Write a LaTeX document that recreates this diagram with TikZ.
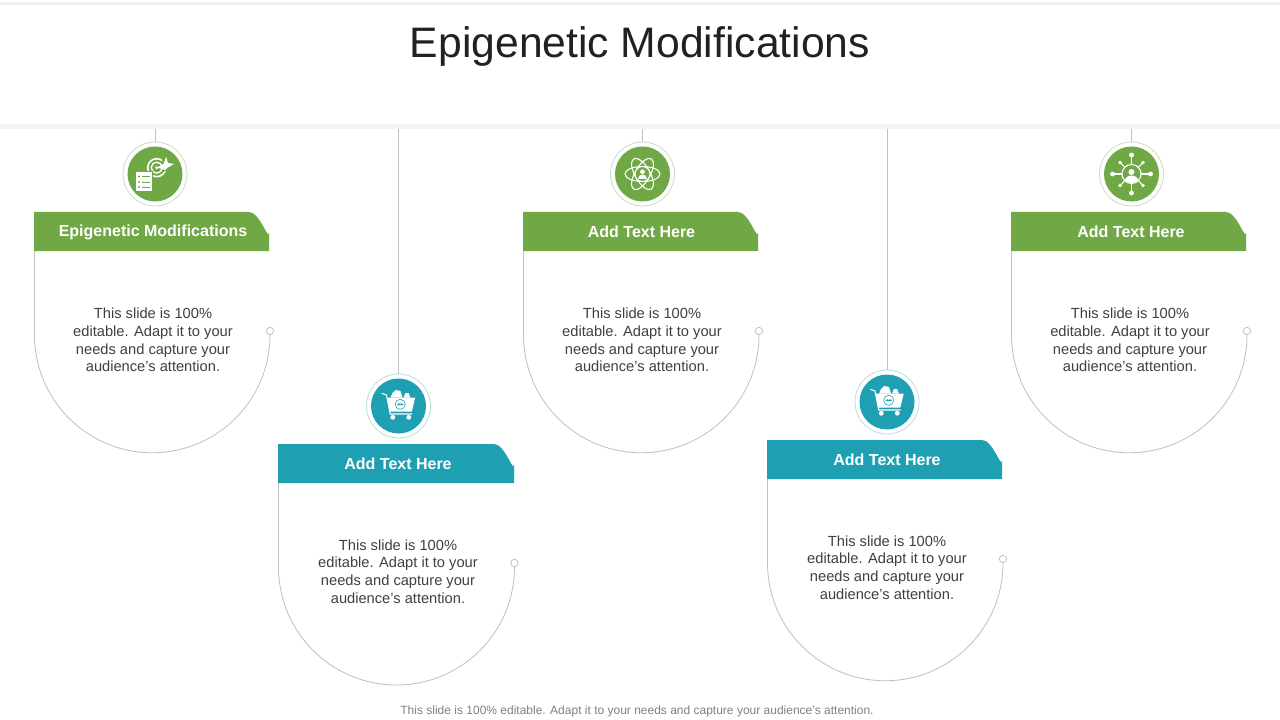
\documentclass[tikz,border=0pt]{standalone}
\usepackage{fontspec}
\setmainfont{Liberation Sans}
\usepackage{tikz}
\definecolor{leaf}{HTML}{70A845}
\definecolor{sea}{HTML}{1FA0B2}
\definecolor{leafring}{HTML}{C9DEBB}
\definecolor{searing}{HTML}{B5E0E6}
\definecolor{wire}{HTML}{BFBFBF}
\definecolor{band}{HTML}{F2F2F2}
\newcommand{\slidetxt}{This slide is 100\%\\editable. Adapt it to your\\needs and capture your\\audience's attention.}
\tikzset{
  headtxt/.style={text=white,font=\fontsize{12}{14}\selectfont\bfseries},
  bodytxt/.style={text=black!75,align=center,font=\fontsize{11}{13.3}\selectfont},
  iconring/.style={circle,draw,line width=0.6pt,fill=white,inner sep=0pt,minimum size=48pt},
  enddot/.style={circle,draw=wire,fill=white,line width=0.6pt,inner sep=0pt,minimum size=5.5pt},
  stem/.style={draw=wire,line width=0.6pt},
  glyph/.style={draw=white,line width=0.8pt},
  pics/cartic/.style={code={
    \fill[white] (-8,-8.3) -- (-6,-13) -- (-3,-16) -- (2,-15) -- (4,-8.3) -- cycle;
    \fill[white] (5,-8.3) -- (7,-13) -- (10,-13) -- (12,-8.3) -- cycle;
    \fill[white] (-11.7,-8.3) -- (16.7,-8.3) -- (13.3,5.7) -- (-8.3,5.7) -- cycle;
    \draw[glyph] (-16.7,-12.7) -- (-12,-11) -- (-8.3,8) -- (13.5,8);
    \fill[white] (-5.7,11.3) circle [radius=2.4];
    \fill[white] (10.3,11.3) circle [radius=2.4];
    \fill[#1] (1.7,-1.7) circle [radius=5.4];
    \fill[white] (1.7,-1.7) circle [radius=4.6];
    \draw[#1,line width=0.5pt] (-1,-1.7) to [out=60,in=120] (1.7,-1.7) to [out=-60,in=-120] (4.4,-1.7) to [out=120,in=60] (1.7,-1.7) to [out=-120,in=-60] cycle;
  }}
}

\begin{document}
\begin{tikzpicture}[x=0.75pt,y=-0.75pt]
\useasboundingbox (0,0) rectangle (1280,720);
\fill [white] (0,0) rectangle (1280,720);
\fill [band] (0,2) rectangle (1280,5);
\fill [band] (0,124) rectangle (1280,129);
\node (title) [text=black!87,font=\fontsize{32}{38}\selectfont] at (640,46) {Epigenetic Modifications};
\node (foot) [text=black!50,font=\fontsize{9}{11}\selectfont] at (637,711) {This slide is 100\% editable. Adapt it to your needs and capture your audience's attention.};

% first card
\coordinate (top1) at (155,129);
\node (icon1) [iconring,draw=leafring] at (155,174) {};
\draw [stem] (top1) -- (icon1);
\fill [leaf] (icon1) circle [radius=27.5];
\fill [leaf] (34,212) -- (249,212) to [out=0,in=-90] (269,232) -- (269,251) -- (34,251) -- cycle;
\node (head1) [headtxt] at (153,232) {Epigenetic Modifications};
\node (end1) [enddot] at (270,331) {};
\draw [stem] (34.5,251) -- (34.5,335) arc [start angle=180,end angle=0,radius=117.75] -- (end1);
\node (body1) [bodytxt] at (153,340) {\slidetxt};
\begin{scope}[shift={(155,174)}]
\draw [white,line width=1.2pt] (1.7,-6.3) circle [radius=9];
\draw [white,line width=1pt] (1.7,-6.3) circle [radius=5.5];
\fill [white] (1.7,-6.3) circle [radius=1.6];
\fill [leaf] (7,-14) -- (16,-16) -- (18,-6) -- (8,-2) -- cycle;
\fill [white] (2,-6.5) -- (8.5,-10) -- (11,-17) -- (13,-11) -- (19,-10) -- (12,-6) -- (10,-4) -- cycle;
\fill [leaf] (-20,-3.3) rectangle (-1.7,18);
\fill [white] (-19,-2.3) rectangle (-2.7,17);
\draw [leaf,line width=0.7pt] (-13,2.5) -- (-5,2.5) (-13,8) -- (-5,8) (-13,13) -- (-5,13);
\fill [leaf] (-16,2.5) circle [radius=1.1] (-16,8) circle [radius=1.1] (-16,13) circle [radius=1.1];
\end{scope}

% second card
\coordinate (top2) at (398.5,129);
\node (icon2) [iconring,draw=searing] at (398.5,406) {};
\draw [stem] (top2) -- (icon2);
\fill [sea] (icon2) circle [radius=27.5];
\pic at (icon2) {cartic=sea};
\fill [sea] (278,444) -- (494,444) to [out=0,in=-90] (514,464) -- (514,483) -- (278,483) -- cycle;
\node (head2) [headtxt] at (398,464) {Add Text Here};
\node (end2) [enddot] at (514.5,563) {};
\draw [stem] (278.5,483) -- (278.5,567) arc [start angle=180,end angle=0,radius=118] -- (end2);
\node (body2) [bodytxt] at (398,571.5) {\slidetxt};

% third card
\coordinate (top3) at (642.5,129);
\node (icon3) [iconring,draw=leafring] at (642.5,174) {};
\draw [stem] (top3) -- (icon3);
\fill [leaf] (icon3) circle [radius=27.5];
\begin{scope}[shift={(642.5,174)}]
\draw [glyph] (0,0) circle [x radius=17.5,y radius=7.5];
\draw [glyph,rotate=60] (0,0) circle [x radius=17.5,y radius=7.5];
\draw [glyph,rotate=-60] (0,0) circle [x radius=17.5,y radius=7.5];
\draw [glyph,fill=leaf] (0,0) circle [radius=7.5];
\fill [white] (0,-2.2) circle [radius=2.4];
\fill [white] (-4.5,5) to [out=90,in=180] (0,0.5) to [out=0,in=90] (4.5,5) -- cycle;
\end{scope}
\fill [leaf] (523,212) -- (738,212) to [out=0,in=-90] (758,232) -- (758,251) -- (523,251) -- cycle;
\node (head3) [headtxt] at (641.5,232) {Add Text Here};
\node (end3) [enddot] at (759,331) {};
\draw [stem] (523.5,251) -- (523.5,335) arc [start angle=180,end angle=0,radius=117.75] -- (end3);
\node (body3) [bodytxt] at (642,340) {\slidetxt};

% fourth card
\coordinate (top4) at (887,129);
\node (icon4) [iconring,draw=searing] at (887,402) {};
\draw [stem] (top4) -- (icon4);
\fill [sea] (icon4) circle [radius=27.5];
\pic at (icon4) {cartic=sea};
\fill [sea] (767,440) -- (982,440) to [out=0,in=-90] (1002,460) -- (1002,479) -- (767,479) -- cycle;
\node (head4) [headtxt] at (887,460) {Add Text Here};
\node (end4) [enddot] at (1003,559) {};
\draw [stem] (767.5,479) -- (767.5,563) arc [start angle=180,end angle=0,radius=117.75] -- (end4);
\node (body4) [bodytxt] at (887,567.5) {\slidetxt};

% fifth card
\coordinate (top5) at (1131.5,129);
\node (icon5) [iconring,draw=leafring] at (1131.5,174) {};
\draw [stem] (top5) -- (icon5);
\fill [leaf] (icon5) circle [radius=27.5];
\begin{scope}[shift={(1131.5,174)}]
\draw [glyph] (0,0) circle [radius=9.5];
\draw [glyph] (0,-9.5) -- (0,-19) (0,9.5) -- (0,19) (-9.5,0) -- (-19,0) (9.5,0) -- (19,0);
\draw [glyph] (-6.7,-6.7) -- (-11.5,-11.5) (6.7,-6.7) -- (11.5,-11.5) (-6.7,6.7) -- (-11.5,11.5) (6.7,6.7) -- (11.5,11.5);
\fill [white] (0,-19) circle [radius=2.4] (0,19) circle [radius=2.4] (-19,0) circle [radius=2.4] (19,0) circle [radius=2.4];
\fill [white] (-11.5,-11.5) circle [radius=1.8] (11.5,-11.5) circle [radius=1.8] (-11.5,11.5) circle [radius=1.8] (11.5,11.5) circle [radius=1.8];
\fill [white] (0,-2) circle [radius=3];
\fill [white] (-7,7) to [out=80,in=180] (0,1.5) to [out=0,in=100] (7,7) to [out=-150,in=-30] cycle;
\end{scope}
\fill [leaf] (1011,212) -- (1226,212) to [out=0,in=-90] (1246,232) -- (1246,251) -- (1011,251) -- cycle;
\node (head5) [headtxt] at (1131,232) {Add Text Here};
\node (end5) [enddot] at (1247,331) {};
\draw [stem] (1011.5,251) -- (1011.5,335) arc [start angle=180,end angle=0,radius=117.75] -- (end5);
\node (body5) [bodytxt] at (1130,340) {\slidetxt};
\end{tikzpicture}
\end{document}
